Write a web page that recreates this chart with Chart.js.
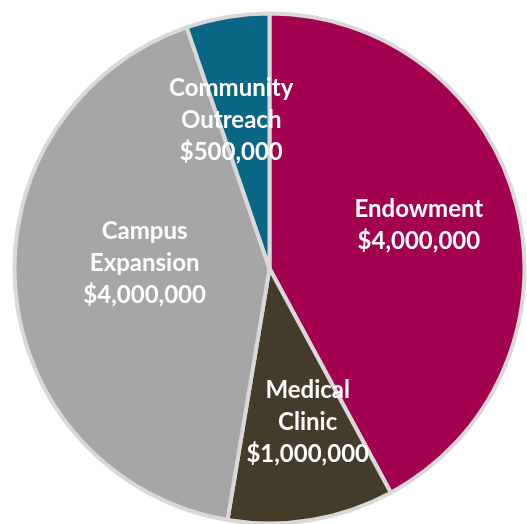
<!DOCTYPE html>
<html>
<head>
<meta charset="utf-8">
<script src="https://cdn.jsdelivr.net/npm/chart.js@4"></script>
<style>
  html, body { margin: 0; padding: 0; background: #ffffff; }
  #wrap { width: 527px; height: 524px; }
</style>
</head>
<body>
<div id="wrap"><canvas id="myChart"></canvas></div>
<script>
// DATOS
const categorias = [["Endowment"], ["Medical", "Clinic"], ["Campus", "Expansion"], ["Community", "Outreach"]]
const montos = [4000000, 1000000, 4000000, 500000]
const colores = ["#A3004F", "#453B2A", "#A6A6A6", "#0A6685"]

function formatoDolar(v) {
    return "$" + v.toLocaleString("en-US")
}

// etiquetas dentro de cada rebanada: [fraccion del radio, giro en grados]
const etiquetasPlugin = {
    id: "etiquetas",
    afterDatasetsDraw(chart, args, opts) {
        const ctx = chart.ctx
        const meta = chart.getDatasetMeta(0)
        ctx.save()
        ctx.fillStyle = "#ffffff"
        ctx.font = "bold 24px Lato"
        ctx.textAlign = "center"
        ctx.textBaseline = "middle"
        meta.data.forEach((arc, i) => {
            const p = arc.getProps(["x", "y", "startAngle", "endAngle", "outerRadius"], true)
            const [frac, giro] = opts.ajustes[i]
            const ang = (p.startAngle + p.endAngle) / 2 + giro * Math.PI / 180
            const r = p.outerRadius * frac
            const cx = p.x + Math.cos(ang) * r
            const cy = p.y + Math.sin(ang) * r
            const lineas = categorias[i].concat([formatoDolar(montos[i])])
            const alto = 32
            lineas.forEach((txt, k) => {
                ctx.fillText(txt, cx, cy + (k - (lineas.length - 1) / 2) * alto)
            })
        })
        ctx.restore()
    }
}

const ctx = document.getElementById("myChart").getContext("2d")
const myChart = new Chart(ctx, {
    type: "pie",
    data: {
        labels: categorias.map(c => c.join(" ")),
        datasets: [
            {
                data: montos,
                backgroundColor: colores,
                borderColor: "#D9D9D9",
                borderWidth: 4,
            },
        ],
    },
    options: {
        responsive: true,
        maintainAspectRatio: false,
        animation: false,
        radius: 255,
        layout: {
            padding: { left: 13, top: 13, right: 1, bottom: 0 },
        },
        plugins: {
            legend: { display: false },
            tooltip: { enabled: false },
            etiquetas: {
                ajustes: [[0.61, -2], [0.62, -4.5], [0.49, 7], [0.6, -5]],
            },
        },
    },
    plugins: [etiquetasPlugin],
})
</script>
</body>
</html>
